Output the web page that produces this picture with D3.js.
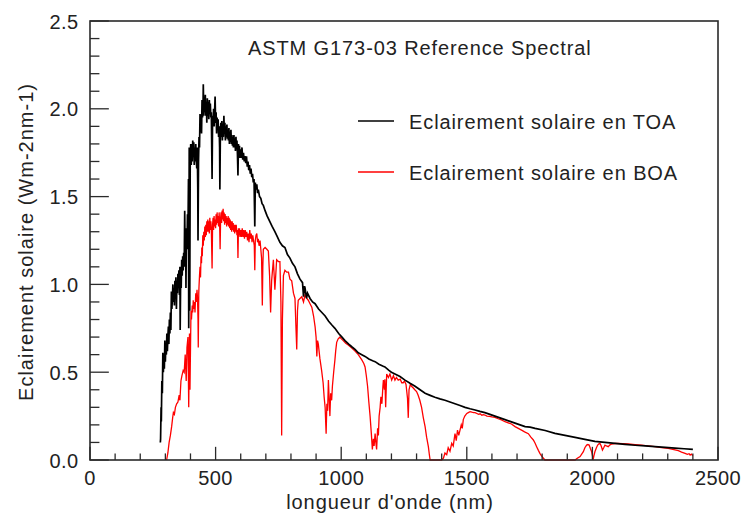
<!DOCTYPE html>
<html>
<head>
<meta charset="utf-8">
<script src="https://cdn.jsdelivr.net/npm/d3@7"></script>
<style>
  html, body { margin: 0; padding: 0; background: #fff; }
  svg { display: block; }
  text { font-family: "Liberation Sans", Arial, Helvetica, sans-serif; fill: #222; }
</style>
</head>
<body>
<svg id="chart" width="744" height="516"></svg>
<script>
// ASTM G173-03 reference spectra, [wavelength (nm), irradiance (W m-2 nm-1)]
const toaSpectrum = [
  [280,0.10],[281,0.12],[283,0.30],[284,0.22],[286,0.45],[288,0.38],[290,0.61],[292,0.50],[294,0.58],[296,0.52],
  [298,0.68],[300,0.56],[302,0.66],[304,0.60],[306,0.72],[308,0.62],[310,0.70],[312,0.76],[314,0.66],[316,0.80],
  [318,0.72],[320,0.84],[322,0.74],[324,0.96],[326,0.86],[328,0.92],[330,1.00],[332,0.90],[334,0.98],[336,0.88],
  [338,1.02],[340,0.92],[342,1.04],[344,0.86],[346,1.02],[348,0.95],[350,1.06],[352,0.98],[354,1.08],[356,0.94],
  [358,1.10],[359,0.74],[361,1.06],[363,0.98],[365,1.14],[367,1.05],[369,1.16],[371,1.08],[373,1.18],[375,1.10],
  [377,1.42],[379,1.15],[381,1.30],[382,0.98],[384,1.32],[386,1.20],[388,1.40],[390,1.30],[392,1.60],[393,0.75],
  [395,1.78],[396,1.70],[397,0.85],[399,1.72],[401,1.80],[403,1.68],[405,1.80],[407,1.70],[409,1.82],[411,1.74],
  [413,1.81],[415,1.68],[417,1.78],[419,1.70],[421,1.80],[423,1.72],[425,1.66],[427,1.78],[429,1.55],[430,1.25],
  [432,1.70],[434,1.84],[436,1.78],[438,1.97],[440,1.88],[442,1.96],[444,1.86],[446,2.05],[448,1.95],[450,2.02],
  [451,2.14],[453,1.96],[455,2.06],[457,1.98],[459,2.08],[461,1.96],[463,2.04],[465,1.92],[467,2.06],[469,1.96],
  [471,2.04],[473,1.94],[475,2.05],[477,1.97],[479,2.03],[481,1.95],[483,1.98],[486,1.60],[488,1.96],[490,1.90],
  [492,2.00],[494,1.90],[496,1.98],[498,2.07],[500,1.92],[502,1.98],[504,1.86],[506,1.95],[508,1.88],[510,1.94],
  [512,1.84],[514,1.90],[516,1.78],[517,1.54],[519,1.86],[521,1.92],[523,1.84],[525,1.93],[527,1.82],[529,1.90],
  [531,1.84],[533,1.96],[535,1.86],[537,1.92],[539,1.82],[541,1.90],[543,1.84],[545,1.91],[547,1.83],[549,1.88],
  [551,1.82],[553,1.89],[555,1.80],[557,1.87],[559,1.81],[561,1.88],[563,1.80],[565,1.85],[567,1.79],[569,1.84],
  [571,1.78],[573,1.85],[575,1.78],[577,1.83],[579,1.76],[581,1.84],[583,1.77],[585,1.82],[587,1.74],[589,1.62],
  [591,1.80],[593,1.74],[595,1.79],[597,1.72],[599,1.77],[602,1.72],[605,1.78],[608,1.71],[611,1.75],[614,1.70],
  [617,1.73],[620,1.69],[623,1.73],[626,1.67],[629,1.70],[632,1.65],[635,1.68],[638,1.63],[641,1.66],[644,1.61],
  [647,1.63],[650,1.58],[653,1.60],[656,1.33],[658,1.58],[661,1.54],[664,1.57],[667,1.52],[670,1.54],[675,1.50],
  [680,1.49],[685,1.46],[690,1.45],[697,1.42],[705,1.39],[715,1.36],[725,1.33],[736,1.30],[746,1.27],[756,1.24],
  [766,1.22],[776,1.21],[786,1.17],[796,1.15],[806,1.12],[816,1.10],[826,1.06],[836,1.03],[846,1.01],[850,0.93],
  [854,0.99],[856,0.98],[862,0.92],[866,0.95],[876,0.92],[886,0.90],[896,0.89],[910,0.86],[923,0.84],[936,0.82],
  [950,0.79],[962,0.77],[975,0.75],[990,0.72],[1003,0.70],[1015,0.68],[1030,0.66],[1042,0.645],[1055,0.63],[1068,0.61],
  [1082,0.60],[1095,0.59],[1110,0.575],[1125,0.565],[1135,0.56],[1150,0.545],[1165,0.535],[1174,0.53],[1190,0.51],[1200,0.50],
  [1214,0.49],[1234,0.475],[1254,0.455],[1274,0.437],[1294,0.42],[1314,0.40],[1334,0.38],[1354,0.368],[1373,0.357],[1393,0.348],
  [1413,0.34],[1433,0.33],[1453,0.32],[1473,0.31],[1493,0.30],[1513,0.292],[1533,0.285],[1552,0.277],[1572,0.27],[1592,0.26],
  [1612,0.25],[1632,0.24],[1652,0.23],[1672,0.22],[1692,0.21],[1712,0.20],[1732,0.19],[1752,0.187],[1772,0.18],[1812,0.168],
  [1851,0.152],[1891,0.14],[1931,0.129],[1970,0.117],[2010,0.106],[2050,0.10],[2090,0.095],[2130,0.089],[2170,0.084],[2210,0.080],
  [2249,0.076],[2290,0.072],[2329,0.068],[2365,0.064],[2400,0.061]
];

const boaSpectrum = [
  [305,0.00],[310,0.04],[315,0.10],[320,0.14],[325,0.19],[329,0.24],[332,0.27],[336,0.26],[340,0.30],[345,0.32],
  [350,0.33],[355,0.37],[358,0.34],[362,0.45],[366,0.48],[371,0.51],[375,0.50],[379,0.60],[383,0.45],[386,0.64],
  [390,0.70],[393,0.30],[396,0.72],[398,0.40],[402,0.85],[404,0.80],[407,0.88],[409,0.84],[411,0.91],[413,0.86],
  [416,0.90],[418,0.84],[421,0.95],[423,0.90],[426,0.97],[428,0.92],[430,0.80],[431,0.64],[433,0.95],[434,0.99],
  [436,1.05],[438,1.10],[440,1.04],[442,1.16],[444,1.12],[445,1.21],[447,1.16],[449,1.28],[451,1.22],[453,1.30],
  [455,1.25],[457,1.33],[459,1.27],[461,1.34],[463,1.28],[465,1.36],[467,1.30],[469,1.37],[471,1.30],[473,1.36],
  [475,1.29],[477,1.38],[479,1.31],[481,1.36],[483,1.32],[486,1.09],[488,1.34],[490,1.38],[492,1.31],[494,1.39],
  [496,1.33],[498,1.37],[500,1.32],[502,1.40],[504,1.34],[506,1.41],[508,1.35],[510,1.39],[512,1.33],[514,1.41],
  [516,1.35],[518,1.20],[520,1.38],[522,1.41],[524,1.35],[526,1.42],[528,1.37],[530,1.43],[532,1.36],[534,1.41],
  [536,1.34],[538,1.40],[540,1.35],[542,1.39],[544,1.33],[546,1.38],[548,1.34],[550,1.39],[552,1.33],[554,1.38],
  [556,1.32],[558,1.37],[560,1.31],[562,1.36],[564,1.30],[566,1.36],[568,1.31],[570,1.35],[572,1.30],[574,1.34],
  [576,1.29],[578,1.34],[580,1.30],[582,1.34],[585,1.28],[587,1.31],[589,1.15],[591,1.32],[593,1.28],[595,1.32],
  [597,1.27],[600,1.31],[603,1.27],[606,1.32],[609,1.27],[612,1.31],[615,1.26],[618,1.31],[621,1.27],[624,1.30],
  [627,1.25],[630,1.29],[633,1.24],[636,1.31],[639,1.26],[642,1.29],[645,1.24],[648,1.28],[651,1.25],[654,1.22],
  [656,1.08],[658,1.25],[661,1.28],[664,1.29],[667,1.24],[670,1.26],[673,1.22],[677,1.25],[680,1.20],[683,1.15],
  [686,0.88],[688,1.10],[690,1.20],[697,1.21],[704,1.20],[710,1.19],[715,1.05],[719,0.84],[723,1.02],[730,1.14],
  [736,0.97],[743,1.14],[750,1.13],[756,1.13],[760,0.90],[763,0.14],[766,0.80],[770,1.05],[776,1.08],[783,1.07],
  [790,1.07],[796,1.03],[803,1.02],[810,0.95],[816,0.92],[820,0.75],[823,0.63],[826,0.85],[829,0.91],[836,0.92],
  [843,0.93],[850,0.90],[856,0.94],[863,0.92],[869,0.91],[876,0.89],[883,0.87],[890,0.82],[896,0.76],[900,0.70],
  [903,0.59],[906,0.68],[909,0.66],[915,0.58],[922,0.51],[928,0.44],[932,0.36],[936,0.30],[940,0.15],[943,0.32],
  [946,0.28],[949,0.455],[952,0.35],[955,0.25],[958,0.38],[962,0.34],[965,0.42],[970,0.50],[975,0.57],[978,0.62],
  [982,0.67],[988,0.69],[995,0.70],[1001,0.69],[1008,0.68],[1018,0.665],[1028,0.655],[1040,0.64],[1055,0.62],[1068,0.60],
  [1082,0.57],[1090,0.55],[1095,0.53],[1100,0.48],[1105,0.42],[1110,0.33],[1115,0.25],[1120,0.15],[1124,0.06],[1128,0.12],
  [1131,0.08],[1135,0.15],[1138,0.10],[1141,0.06],[1145,0.18],[1148,0.14],[1151,0.25],[1155,0.30],[1158,0.36],[1162,0.32],
  [1166,0.42],[1168,0.455],[1172,0.40],[1174,0.46],[1177,0.30],[1181,0.49],[1188,0.47],[1194,0.49],[1201,0.455],[1208,0.48],
  [1214,0.455],[1220,0.47],[1227,0.455],[1235,0.46],[1241,0.44],[1247,0.44],[1252,0.45],[1258,0.43],[1264,0.35],[1267,0.24],
  [1270,0.40],[1275,0.43],[1280,0.42],[1287,0.41],[1293,0.40],[1300,0.39],[1306,0.37],[1313,0.34],[1320,0.30],[1327,0.24],
  [1334,0.19],[1340,0.13],[1347,0.076],[1351,0.03],[1354,0.00],[1400,0.00],[1407,0.01],[1413,0.04],[1420,0.03],[1426,0.07],
  [1433,0.05],[1440,0.095],[1446,0.08],[1453,0.15],[1458,0.11],[1463,0.17],[1468,0.14],[1473,0.17],[1478,0.20],[1482,0.18],
  [1486,0.23],[1492,0.25],[1500,0.265],[1506,0.27],[1513,0.275],[1520,0.272],[1527,0.27],[1533,0.27],[1540,0.265],[1547,0.26],
  [1553,0.263],[1560,0.255],[1566,0.258],[1572,0.256],[1580,0.25],[1590,0.248],[1600,0.245],[1612,0.243],[1625,0.235],[1638,0.228],
  [1652,0.218],[1665,0.212],[1678,0.205],[1692,0.19],[1705,0.18],[1718,0.17],[1730,0.16],[1745,0.15],[1755,0.13],[1765,0.114],
  [1772,0.095],[1778,0.076],[1785,0.055],[1791,0.038],[1798,0.022],[1805,0.01],[1811,0.00],[1931,0.00],[1940,0.01],[1951,0.02],
  [1958,0.035],[1964,0.047],[1970,0.07],[1977,0.085],[1982,0.088],[1987,0.085],[1992,0.065],[1997,0.047],[2001,0.02],[2004,0.01],
  [2007,0.03],[2010,0.047],[2016,0.07],[2021,0.085],[2026,0.092],[2030,0.095],[2035,0.08],[2040,0.057],[2045,0.07],[2050,0.085],
  [2056,0.08],[2063,0.076],[2070,0.086],[2077,0.091],[2090,0.094],[2103,0.095],[2120,0.093],[2143,0.091],[2170,0.088],[2196,0.085],
  [2220,0.081],[2249,0.076],[2275,0.071],[2302,0.066],[2320,0.06],[2342,0.053],[2355,0.045],[2369,0.038],[2378,0.032],[2385,0.036],
  [2389,0.028],[2394,0.033],[2400,0.025]
];

const xMajorTicks = [0, 500, 1000, 1500, 2000, 2500];
const yMajorTicks = [0.0, 0.5, 1.0, 1.5, 2.0, 2.5];
const xTickLabels = ["0", "500", "1000", "1500", "2000", "2500"];
const yTickLabels = ["0.0", "0.5", "1.0", "1.5", "2.0", "2.5"];

const seriesNames = ["Eclairement solaire en TOA", "Eclairement solaire en BOA"];
const seriesColors = ["#000000", "#ff0000"];
const chartTitle = "ASTM G173-03 Reference Spectral";
const xTitle = "longueur d'onde (nm)";
const yTitle = "Eclairement solaire (Wm-2nm-1)";

// ---- layout ----
const svg = d3.select("#chart");
const plot = { left: 90, top: 21, right: 718, bottom: 460 };
const pw = plot.right - plot.left, ph = plot.bottom - plot.top;

const x = d3.scaleLinear().domain([0, 2500]).range([plot.left, plot.right]);
const y = d3.scaleLinear().domain([0, 2.5]).range([plot.bottom, plot.top]);

const fontSize = 20;
const wordSpacing = "0.9px";   // letter-spacing for labels and titles
const digitSpacing = "0.4px";  // letter-spacing for tick numbers
const axisColor = "#2a2a2a";

// ---- spectra ----
const line = d3.line().x(d => x(d[0])).y(d => y(d[1]));

svg.append("path").datum(boaSpectrum)
  .attr("d", line).attr("fill", "none")
  .attr("stroke", seriesColors[1]).attr("stroke-width", 1.3);

svg.append("path").datum(toaSpectrum)
  .attr("d", line).attr("fill", "none")
  .attr("stroke", seriesColors[0]).attr("stroke-width", 1.7);

// ---- frame and inward ticks (bottom and left only) ----
const xTickLen = 0.03 * ph, yTickLen = 0.03 * pw;
const ticks = svg.append("g").attr("stroke", axisColor).attr("stroke-width", 1.3);

x.ticks(25).forEach(v => {
  const major = xMajorTicks.includes(v);
  const len = major ? xTickLen : xTickLen / 2;
  ticks.append("line")
    .attr("x1", x(v)).attr("x2", x(v))
    .attr("y1", plot.bottom).attr("y2", plot.bottom - len);
});
y.ticks(25).forEach(v => {
  const major = yMajorTicks.some(t => Math.abs(t - v) < 1e-9);
  const len = major ? yTickLen : yTickLen / 2;
  ticks.append("line")
    .attr("x1", plot.left).attr("x2", plot.left + len)
    .attr("y1", y(v)).attr("y2", y(v));
});

svg.append("rect")
  .attr("x", plot.left).attr("y", plot.top)
  .attr("width", pw).attr("height", ph)
  .attr("fill", "none").attr("stroke", axisColor).attr("stroke-width", 1.6);

// ---- tick labels ----
svg.append("g").selectAll("text").data(xMajorTicks).join("text")
  .attr("x", d => x(d)).attr("y", plot.bottom + 25)
  .attr("text-anchor", "middle").attr("font-size", fontSize)
  .style("letter-spacing", digitSpacing)
  .text((d, i) => xTickLabels[i]);

svg.append("g").selectAll("text").data(yMajorTicks).join("text")
  .attr("x", plot.left - 11.5).attr("y", d => y(d) + 7.5)
  .attr("text-anchor", "end").attr("font-size", fontSize)
  .style("letter-spacing", digitSpacing)
  .text((d, i) => yTickLabels[i]);

// ---- axis titles ----
svg.append("text")
  .attr("x", 390).attr("y", 509)
  .attr("text-anchor", "middle").attr("font-size", fontSize)
  .style("letter-spacing", wordSpacing)
  .text(xTitle);

svg.append("text")
  .attr("transform", `translate(33, 242) rotate(-90)`)
  .attr("text-anchor", "middle").attr("font-size", fontSize)
  .style("letter-spacing", "1px")
  .text(yTitle);

// ---- title ----
svg.append("text")
  .attr("x", 248).attr("y", 55)
  .attr("font-size", fontSize)
  .style("letter-spacing", wordSpacing)
  .text(chartTitle);

// ---- legend ----
const legendRows = [121, 172];
const legend = svg.append("g");
seriesNames.forEach((name, i) => {
  legend.append("line")
    .attr("x1", 358).attr("x2", 394)
    .attr("y1", legendRows[i]).attr("y2", legendRows[i])
    .attr("stroke", seriesColors[i]).attr("stroke-width", 1.3);
  legend.append("text")
    .attr("x", 409).attr("y", legendRows[i] + 8)
    .attr("font-size", fontSize)
    .style("letter-spacing", wordSpacing)
    .text(name);
});
</script>
</body>
</html>
